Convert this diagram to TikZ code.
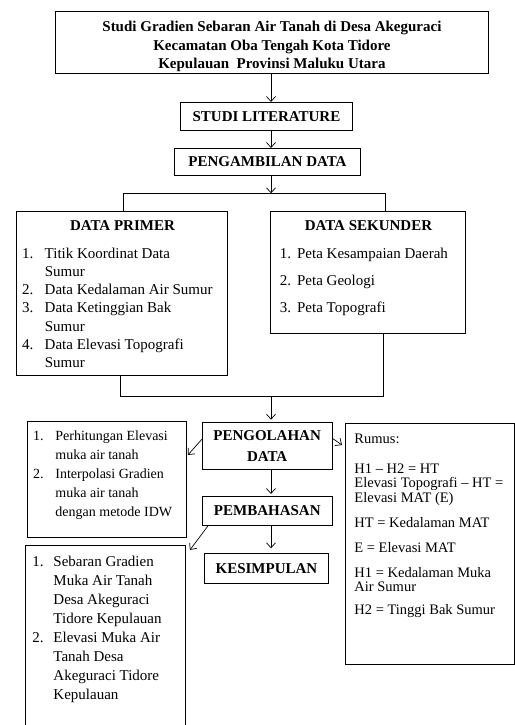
\documentclass[tikz,border=0pt]{standalone}
\usepackage{fontspec}
\setmainfont{Liberation Serif}
\usepackage{array}
\usetikzlibrary{arrows.meta}

\newcommand{\isikotak}[4]{\parbox[c][#2][t]{#1}{\vspace*{#3}#4}}

\tikzset{
  kotak/.style={draw, line width=0.9pt, inner sep=0pt, anchor=north west},
  tebal/.style={font=\fontsize{15}{18.5}\selectfont\bfseries, align=center},
  panah/.style={line width=0.7pt, -{Straight Barb[length=5pt,width=9pt]}},
  garis/.style={line width=0.7pt},
}

\begin{document}
\begin{tikzpicture}[x=1pt, y=-1pt, font=\fontsize{15}{18.5}\selectfont]
\useasboundingbox (0,0) rectangle (514,725);

\node[kotak,tebal,minimum width=433,minimum height=62](judul) at (55,11) {\rule{0pt}{18.5pt}Studi Gradien Sebaran Air Tanah di Desa Akeguraci\\Kecamatan Oba Tengah Kota Tidore\\Kepulauan~ Provinsi Maluku Utara};
\node[kotak,tebal,minimum width=172,minimum height=28](studi) at (180,102) {STUDI LITERATURE};
\node[kotak,tebal,minimum width=186,minimum height=27](ambil) at (174,148) {PENGAMBILAN DATA};

\node[kotak,font=\fontsize{15}{18.3}\selectfont](primer) at (16,210.7) {\isikotak{210.7pt}{164.3pt}{6.3pt}{%
\begin{tabular}{@{\hspace{5.7pt}}p{22.6pt}@{}p{178pt}@{}}
\multicolumn{2}{@{\hspace{5.7pt}}c@{}}{\bfseries DATA PRIMER}\\[9.5pt]
1. & Titik Koordinat Data\newline Sumur\\
2. & Data Kedalaman Air Sumur\\
3. & Data Ketinggian Bak\newline Sumur\\
4. & Data Elevasi Topografi\newline Sumur
\end{tabular}}};
\node[kotak](sekunder) at (270,211) {\isikotak{195pt}{122pt}{6pt}{%
\begin{tabular}{@{\hspace{9.3pt}}p{17.4pt}@{}p{160pt}@{}}
\multicolumn{2}{@{\hspace{9.3pt}}c@{}}{\bfseries DATA SEKUNDER}\\[9.5pt]
1. & Peta Kesampaian Daerah\\[8.5pt]
2. & Peta Geologi\\[8.5pt]
3. & Peta Topografi
\end{tabular}}};

\node[kotak,tebal,font=\fontsize{15}{21}\selectfont\bfseries,minimum width=130,minimum height=47.6](olah) at (201.7,421.7) {PENGOLAHAN\\DATA};
\node[kotak,tebal,minimum width=130.3,minimum height=29](bahas) at (201.7,496) {PEMBAHASAN};
\node[kotak,tebal,minimum width=123.4,minimum height=30](simpul) at (204.3,553.3) {KESIMPULAN};

\node[kotak,font=\fontsize{14}{19}\selectfont](proses) at (26.7,421) {\isikotak{159pt}{116pt}{5.7pt}{%
\begin{tabular}{@{\hspace{6pt}}p{22.3pt}@{}p{125pt}@{}}
1. & Perhitungan Elevasi\newline muka air tanah\\
2. & Interpolasi Gradien\newline muka air tanah\newline dengan metode IDW
\end{tabular}}};
\node[kotak,font=\fontsize{15}{19}\selectfont](hasil) at (25,545) {\isikotak{160pt}{200pt}{7.7pt}{%
\begin{tabular}{@{\hspace{7pt}}p{21pt}@{}p{128pt}@{}}
1. & Sebaran Gradien\newline Muka Air Tanah\newline Desa Akeguraci\newline Tidore Kepulauan\\
2. & Elevasi Muka Air\newline Tanah Desa\newline Akeguraci Tidore\newline Kepulauan
\end{tabular}}};
\node[kotak,font=\fontsize{14.5}{14.5}\selectfont](rumus) at (345,423) {\isikotak{168.6pt}{241pt}{10pt}{%
\begin{tabular}{@{\hspace{9pt}}l@{}}
Rumus:\\[15pt]
H1 -- H2 = HT\\
Elevasi Topografi -- HT =\\
Elevasi MAT (E)\\[10.5pt]
HT = Kedalaman MAT\\[10.5pt]
E = Elevasi MAT\\[10.5pt]
H1 = Kedalaman Muka\\
Air Sumur\\[8.5pt]
H2 = Tinggi Bak Sumur
\end{tabular}}};

\coordinate (sumbu) at (271,0);
\coordinate (cabang) at (271,193.3);
\coordinate (cabangkiri) at (123.3,193.3);
\coordinate (cabangkanan) at (385,193.3);
\coordinate (gabung) at (271,396.5);
\coordinate (gabungkiri) at (120,396.5);
\coordinate (gabungkanan) at (383,396.5);

\draw[panah] (judul.south -| sumbu) -- (studi.north -| sumbu);
\draw[panah] (studi.south -| sumbu) -- (ambil.north -| sumbu);
\draw[panah] (ambil.south -| sumbu) -- (cabang);
\draw[garis] (primer.north -| cabangkiri) -- (cabangkiri) -- (cabangkanan) -- (sekunder.north -| cabangkanan);
\draw[garis] (primer.south -| gabungkiri) -- (gabungkiri) -- (gabungkanan) -- (sekunder.south -| gabungkanan);
\draw[panah,shorten >=2pt] (gabung) -- (olah.north -| sumbu);
\draw[panah,shorten >=2pt] (olah.south -| sumbu) -- (bahas.north -| sumbu);
\draw[panah,shorten >=5pt] (bahas.south -| sumbu) -- (simpul.north -| sumbu);
\draw[panah] ([yshift=6.5pt]olah.west) -- ([xshift=1.3pt,yshift=24.5pt]proses.east);
\draw[panah] ([yshift=7.5pt]olah.east) -- ([xshift=-3pt,yshift=-22pt]rumus.north west);
\draw[panah] ([xshift=6.3pt]bahas.south west) -- ([xshift=4pt,yshift=-5pt]hasil.north east);
\end{tikzpicture}
\end{document}
